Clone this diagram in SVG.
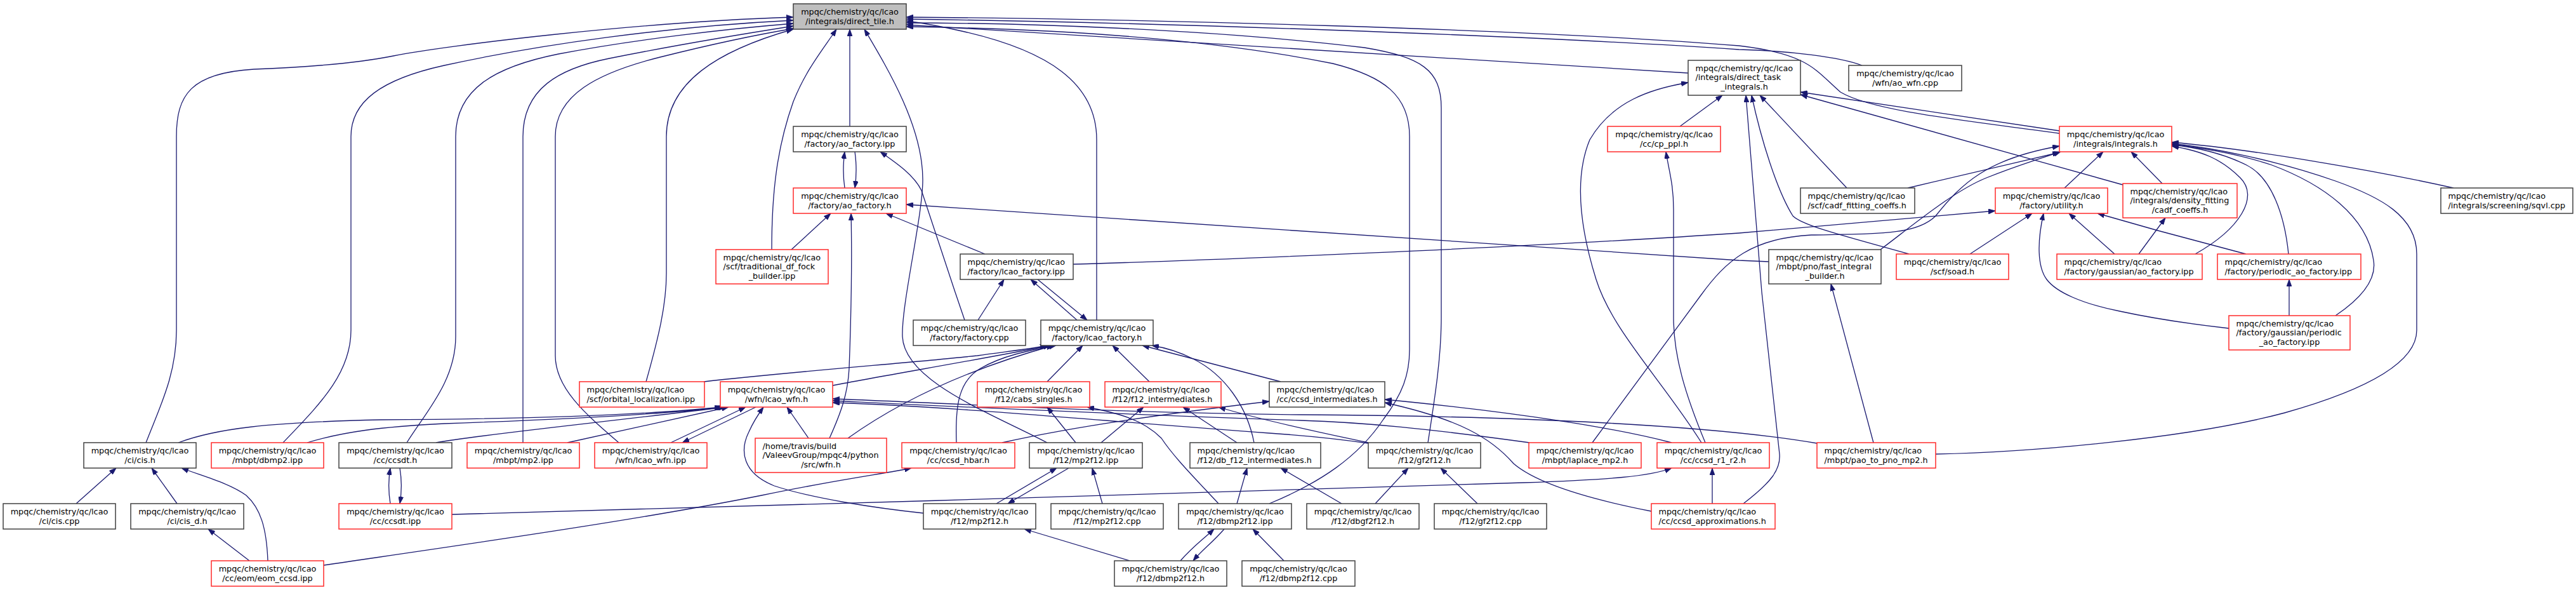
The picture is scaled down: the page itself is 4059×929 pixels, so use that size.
<svg xmlns="http://www.w3.org/2000/svg" width="4059" height="929" viewBox="0 0 4059 929">
<style>
rect{fill:#fff;stroke:#404040;stroke-width:1.5}
.r rect{stroke:#ff2a2a}
.g rect{fill:#bfbfbf}
text{font-family:"DejaVu Sans","Liberation Sans",sans-serif;font-size:12.8px;fill:#000}
.c{text-anchor:middle}
#edges path{fill:none;stroke:#191970;stroke-width:1.3;marker-end:url(#a)}
</style>
<defs>
<marker id="a" viewBox="0 0 11 8" refX="11" refY="4" markerWidth="11" markerHeight="8" markerUnits="userSpaceOnUse" orient="auto"><path d="M0,0 L11,4 L0,8 z" fill="#191970" stroke="#191970" stroke-width="0.8"/></marker>
</defs>
<rect x="0" y="0" width="4059" height="929" style="fill:#fff;stroke:none"/>
<g id="edges">
<path d="M230,697 C252,640 278,590 278,520 L278,215 C278,150 300,115 400,109 C480,106 560,100 620,88 C700,72 1000,35 1250,27"/>
<path d="M446,697 C500,640 553,590 553,520 L553,215 C553,160 600,125 700,103 C850,70 1050,42 1250,32"/>
<path d="M641,697 C670,650 718,600 718,530 L718,215 C718,140 780,105 880,85 C1000,62 1150,45 1250,37"/>
<path d="M824,697 L824,215 C824,140 880,108 960,92 C1080,68 1180,52 1250,41"/>
<path d="M975,697 C920,650 875,610 875,560 L875,215 C875,150 940,115 1040,90 C1120,70 1190,55 1250,45"/>
<path d="M1018,601 C1038,530 1050,480 1050,430 L1050,215 C1050,130 1130,80 1250,46"/>
<path d="M1216,393 C1216,300 1225,230 1250,160 C1270,110 1295,80 1318,46"/>
<path d="M1339,199 L1339,46"/>
<path d="M1650,697 C1560,650 1425,600 1422,530 C1420,480 1454,340 1454,283 C1454,200 1400,110 1362,46"/>
<path d="M1728,504 L1728,220 C1728,130 1650,80 1520,50 C1490,43 1460,37 1428,33"/>
<path d="M3245,210 C3100,190 2950,175 2900,145 C2860,110 2850,85 2740,72 C2400,45 1800,30 1428,27"/>
<path d="M2934,103 C2900,90 2820,80 2740,78 C2400,55 1800,35 1428,30"/>
<path d="M2250,697 C2262,620 2271,560 2271,500 L2271,170 C2271,110 2240,90 2150,75 C1900,45 1600,36 1428,36"/>
<path d="M2660,115 L1428,39"/>
<path d="M2000,793 C2080,760 2140,720 2180,660 C2210,620 2221,590 2221,550 L2221,215 C2221,150 2180,120 2100,100 C1900,60 1650,45 1428,42"/>
<path d="M1247,393 L1309,336"/>
<path d="M1331,296 C1328,275 1328,260 1331,239"/>
<path d="M1347,239 C1350,260 1350,275 1347,296"/>
<path d="M1307,690 C1325,650 1336,620 1338,580 C1341,500 1343,420 1341,336"/>
<path d="M1552,400 L1396,336"/>
<path d="M1520,504 L1505,460 L1452,300 C1440,275 1410,255 1387,239"/>
<path d="M1541,504 L1582,440"/>
<path d="M1697,504 L1624,440"/>
<path d="M1635,440 L1713,504"/>
<path d="M1691,416 C1900,410 2400,390 2740,367 L3144,332"/>
<path d="M2787,412 L2740,410 L1428,322"/>
<path d="M2647,199 L2714,150"/>
<path d="M3245,206 L2837,145"/>
<path d="M3345,291 L2837,149"/>
<path d="M2910,296 L2773,150"/>
<path d="M3008,400 C2900,370 2840,355 2825,340 C2800,300 2775,220 2760,150"/>
<path d="M2747,793 C2790,760 2806,740 2804,715 L2776,460 L2751,150"/>
<path d="M2681,697 C2620,600 2540,520 2515,440 C2490,360 2480,280 2505,220 C2540,160 2600,140 2660,130"/>
<path d="M2687,697 C2655,620 2637,560 2637,500 L2637,330 C2637,290 2630,270 2625,239"/>
<path d="M3407,289 L3358,239"/>
<path d="M3253,296 L3314,239"/>
<path d="M3006,296 L3245,240"/>
<path d="M2963,393 C3020,350 3080,300 3130,280 C3180,260 3220,248 3247,239"/>
<path d="M2509,697 L2680,465 C2720,410 2760,375 2854,370 C2960,368 3020,370 3050,340 C3090,290 3130,250 3245,230"/>
<path d="M3459,400 C3530,360 3560,310 3530,280 C3500,250 3470,238 3422,230"/>
<path d="M3606,400 C3600,340 3580,280 3540,260 C3500,240 3460,232 3422,228"/>
<path d="M3680,497 C3720,470 3745,440 3740,410 C3730,340 3660,290 3580,260 C3520,240 3460,232 3422,227"/>
<path d="M3866,296 C3750,270 3550,235 3422,224"/>
<path d="M3050,715 C3200,712 3450,690 3600,650 C3760,605 3808,560 3808,520 L3808,400 C3808,340 3750,310 3680,285 C3580,250 3480,232 3422,226"/>
<path d="M3104,400 L3202,336"/>
<path d="M3512,517 C3450,510 3400,503 3340,490 C3280,478 3240,460 3225,440 C3210,420 3210,380 3220,336"/>
<path d="M3332,400 L3260,336"/>
<path d="M3539,400 L3400,363 L3305,336"/>
<path d="M3370,400 L3412,343"/>
<path d="M3607,497 L3607,440"/>
<path d="M2952,697 L2885,447"/>
<path d="M1109,601 C1250,585 1450,570 1540,560 C1590,553 1620,550 1650,544"/>
<path d="M1312,607 C1400,590 1550,565 1655,544"/>
<path d="M1336,690 C1420,630 1530,580 1660,544"/>
<path d="M1507,697 C1505,640 1510,600 1545,580 C1580,560 1620,552 1664,544"/>
<path d="M1650,601 L1706,544"/>
<path d="M1811,601 L1753,544"/>
<path d="M2018,601 L1800,544"/>
<path d="M1976,697 C1965,640 1930,590 1880,565 C1860,555 1840,548 1815,544"/>
<path d="M281,697 C340,675 420,665 600,661 C800,660 1000,655 1137,641"/>
<path d="M484,697 C540,680 600,672 700,667 C900,660 1050,652 1140,641"/>
<path d="M687,697 C750,685 950,665 1143,641"/>
<path d="M894,697 L1148,641"/>
<path d="M1057,697 L1175,641"/>
<path d="M1191,641 L1075,697"/>
<path d="M1455,808 C1380,800 1280,785 1220,765 C1170,745 1165,710 1180,680 C1188,662 1195,652 1203,641"/>
<path d="M1274,690 L1240,641"/>
<path d="M2863,698 C2700,670 2400,655 2050,653 C1750,650 1500,635 1312,628"/>
<path d="M2410,697 C2250,675 2150,665 2050,662 C1700,650 1500,640 1312,631"/>
<path d="M2156,698 C2100,690 2060,686 2000,682 C1700,660 1500,640 1312,634"/>
<path d="M2156,697 C2100,685 2000,665 1920,641"/>
<path d="M1579,697 C1700,670 1850,650 2000,632"/>
<path d="M2634,697 C2550,675 2400,650 2182,629"/>
<path d="M2602,805 C2500,785 2420,760 2385,730 C2350,690 2300,660 2182,634"/>
<path d="M510,890 C700,862 1000,820 1200,780 C1320,755 1400,745 1436,737"/>
<path d="M712,810 C1200,795 2000,775 2400,760 C2540,755 2600,750 2634,737"/>
<path d="M2698,793 L2698,737"/>
<path d="M2167,793 L2219,737"/>
<path d="M2328,793 L2270,737"/>
<path d="M2114,793 L2018,737"/>
<path d="M120,793 L183,737"/>
<path d="M279,793 L239,737"/>
<path d="M422,883 C420,830 410,800 388,780 C360,760 320,750 286,737"/>
<path d="M393,883 L328,833"/>
<path d="M615,793 C612,775 612,755 615,737"/>
<path d="M630,737 C633,755 633,775 630,793"/>
<path d="M1570,793 L1665,737"/>
<path d="M1684,737 L1588,793"/>
<path d="M1737,793 L1721,737"/>
<path d="M1695,697 L1650,641"/>
<path d="M1735,697 L1802,641"/>
<path d="M1949,697 L1864,641"/>
<path d="M1920,793 C1880,750 1850,720 1830,690 C1800,660 1760,650 1713,641"/>
<path d="M1949,793 L1965,737"/>
<path d="M1860,883 C1880,860 1895,850 1913,833"/>
<path d="M1929,833 C1910,855 1895,865 1880,883"/>
<path d="M2023,883 L1974,833"/>
<path d="M1780,883 L1614,833"/>
</g>
<g id="n1" class="g"><rect x="1250" y="6" width="178" height="40"/><text class="c" x="1339" y="23">mpqc/chemistry/qc/lcao</text><text class="c" x="1339" y="37.5">/integrals/direct_tile.h</text></g>
<g id="n2"><rect x="2660" y="95" width="177" height="55"/><text x="2671.5" y="111.5">mpqc/chemistry/qc/lcao</text><text x="2671.5" y="126">/integrals/direct_task</text><text class="c" x="2748.5" y="140.5">_integrals.h</text></g>
<g id="n3"><rect x="2913" y="103" width="178" height="40"/><text class="c" x="3002" y="120">mpqc/chemistry/qc/lcao</text><text class="c" x="3002" y="134.5">/wfn/ao_wfn.cpp</text></g>
<g id="n4"><rect x="1250" y="199" width="178" height="40"/><text class="c" x="1339" y="216">mpqc/chemistry/qc/lcao</text><text class="c" x="1339" y="230.5">/factory/ao_factory.ipp</text></g>
<g id="n5" class="r"><rect x="2533" y="199" width="178" height="40"/><text class="c" x="2622" y="216">mpqc/chemistry/qc/lcao</text><text class="c" x="2622" y="230.5">/cc/cp_ppl.h</text></g>
<g id="n6" class="r"><rect x="3245" y="199" width="177" height="40"/><text class="c" x="3333.5" y="216">mpqc/chemistry/qc/lcao</text><text class="c" x="3333.5" y="230.5">/integrals/integrals.h</text></g>
<g id="n7" class="r"><rect x="1250" y="296" width="178" height="40"/><text class="c" x="1339" y="313">mpqc/chemistry/qc/lcao</text><text class="c" x="1339" y="327.5">/factory/ao_factory.h</text></g>
<g id="n8"><rect x="2837" y="296" width="180" height="40"/><text x="2848.5" y="313">mpqc/chemistry/qc/lcao</text><text x="2848.5" y="327.5">/scf/cadf_fitting_coeffs.h</text></g>
<g id="n9" class="r"><rect x="3144" y="296" width="177" height="40"/><text class="c" x="3232.5" y="313">mpqc/chemistry/qc/lcao</text><text class="c" x="3232.5" y="327.5">/factory/utility.h</text></g>
<g id="n10" class="r"><rect x="3345" y="289" width="180" height="54"/><text x="3356.5" y="305.5">mpqc/chemistry/qc/lcao</text><text x="3356.5" y="320">/integrals/density_fitting</text><text class="c" x="3435" y="334.5">/cadf_coeffs.h</text></g>
<g id="n11"><rect x="3846" y="296" width="208" height="40"/><text x="3857.5" y="313">mpqc/chemistry/qc/lcao</text><text x="3857.5" y="327.5">/integrals/screening/sqvl.cpp</text></g>
<g id="n12" class="r"><rect x="1128" y="393" width="177" height="54"/><text x="1139.5" y="409.5">mpqc/chemistry/qc/lcao</text><text x="1139.5" y="424">/scf/traditional_df_fock</text><text class="c" x="1216.5" y="438.5">_builder.ipp</text></g>
<g id="n13"><rect x="1513" y="400" width="178" height="40"/><text x="1524.5" y="417">mpqc/chemistry/qc/lcao</text><text x="1524.5" y="431.5">/factory/lcao_factory.ipp</text></g>
<g id="n14"><rect x="2787" y="393" width="177" height="54"/><text x="2798.5" y="409.5">mpqc/chemistry/qc/lcao</text><text x="2798.5" y="424">/mbpt/pno/fast_integral</text><text class="c" x="2875.5" y="438.5">_builder.h</text></g>
<g id="n15" class="r"><rect x="2988" y="400" width="177" height="40"/><text class="c" x="3076.5" y="417">mpqc/chemistry/qc/lcao</text><text class="c" x="3076.5" y="431.5">/scf/soad.h</text></g>
<g id="n16" class="r"><rect x="3241" y="400" width="229" height="40"/><text x="3252.5" y="417">mpqc/chemistry/qc/lcao</text><text x="3252.5" y="431.5">/factory/gaussian/ao_factory.ipp</text></g>
<g id="n17" class="r"><rect x="3494" y="400" width="226" height="40"/><text x="3505.5" y="417">mpqc/chemistry/qc/lcao</text><text x="3505.5" y="431.5">/factory/periodic_ao_factory.ipp</text></g>
<g id="n18"><rect x="1439" y="504" width="177" height="40"/><text class="c" x="1527.5" y="521">mpqc/chemistry/qc/lcao</text><text class="c" x="1527.5" y="535.5">/factory/factory.cpp</text></g>
<g id="n19"><rect x="1640" y="504" width="177" height="40"/><text class="c" x="1728.5" y="521">mpqc/chemistry/qc/lcao</text><text class="c" x="1728.5" y="535.5">/factory/lcao_factory.h</text></g>
<g id="n20" class="r"><rect x="3512" y="497" width="191" height="54"/><text x="3523.5" y="513.5">mpqc/chemistry/qc/lcao</text><text x="3523.5" y="528">/factory/gaussian/periodic</text><text class="c" x="3607.5" y="542.5">_ao_factory.ipp</text></g>
<g id="n21" class="r"><rect x="913" y="601" width="197" height="40"/><text x="924.5" y="618">mpqc/chemistry/qc/lcao</text><text x="924.5" y="632.5">/scf/orbital_localization.ipp</text></g>
<g id="n22" class="r"><rect x="1135" y="601" width="177" height="40"/><text class="c" x="1223.5" y="618">mpqc/chemistry/qc/lcao</text><text class="c" x="1223.5" y="632.5">/wfn/lcao_wfn.h</text></g>
<g id="n23" class="r"><rect x="1540" y="601" width="177" height="40"/><text class="c" x="1628.5" y="618">mpqc/chemistry/qc/lcao</text><text class="c" x="1628.5" y="632.5">/f12/cabs_singles.h</text></g>
<g id="n24" class="r"><rect x="1741" y="601" width="183" height="40"/><text x="1752.5" y="618">mpqc/chemistry/qc/lcao</text><text x="1752.5" y="632.5">/f12/f12_intermediates.h</text></g>
<g id="n25"><rect x="2000" y="601" width="182" height="40"/><text x="2011.5" y="618">mpqc/chemistry/qc/lcao</text><text x="2011.5" y="632.5">/cc/ccsd_intermediates.h</text></g>
<g id="n26" class="r"><rect x="1190" y="690" width="207" height="54"/><text x="1201.5" y="706.5">/home/travis/build</text><text x="1201.5" y="721">/ValeevGroup/mpqc4/python</text><text class="c" x="1293.5" y="735.5">/src/wfn.h</text></g>
<g id="n27"><rect x="132" y="697" width="177" height="40"/><text class="c" x="220.5" y="714">mpqc/chemistry/qc/lcao</text><text class="c" x="220.5" y="728.5">/ci/cis.h</text></g>
<g id="n28" class="r"><rect x="333" y="697" width="177" height="40"/><text class="c" x="421.5" y="714">mpqc/chemistry/qc/lcao</text><text class="c" x="421.5" y="728.5">/mbpt/dbmp2.ipp</text></g>
<g id="n29"><rect x="534" y="697" width="178" height="40"/><text class="c" x="623" y="714">mpqc/chemistry/qc/lcao</text><text class="c" x="623" y="728.5">/cc/ccsdt.h</text></g>
<g id="n30" class="r"><rect x="736" y="697" width="177" height="40"/><text class="c" x="824.5" y="714">mpqc/chemistry/qc/lcao</text><text class="c" x="824.5" y="728.5">/mbpt/mp2.ipp</text></g>
<g id="n31" class="r"><rect x="937" y="697" width="177" height="40"/><text class="c" x="1025.5" y="714">mpqc/chemistry/qc/lcao</text><text class="c" x="1025.5" y="728.5">/wfn/lcao_wfn.ipp</text></g>
<g id="n32" class="r"><rect x="1421" y="697" width="178" height="40"/><text class="c" x="1510" y="714">mpqc/chemistry/qc/lcao</text><text class="c" x="1510" y="728.5">/cc/ccsd_hbar.h</text></g>
<g id="n33"><rect x="1622" y="697" width="178" height="40"/><text class="c" x="1711" y="714">mpqc/chemistry/qc/lcao</text><text class="c" x="1711" y="728.5">/f12/mp2f12.ipp</text></g>
<g id="n34"><rect x="1875" y="697" width="206" height="40"/><text x="1886.5" y="714">mpqc/chemistry/qc/lcao</text><text x="1886.5" y="728.5">/f12/db_f12_intermediates.h</text></g>
<g id="n35"><rect x="2156" y="697" width="177" height="40"/><text class="c" x="2244.5" y="714">mpqc/chemistry/qc/lcao</text><text class="c" x="2244.5" y="728.5">/f12/gf2f12.h</text></g>
<g id="n36" class="r"><rect x="2409" y="697" width="177" height="40"/><text class="c" x="2497.5" y="714">mpqc/chemistry/qc/lcao</text><text class="c" x="2497.5" y="728.5">/mbpt/laplace_mp2.h</text></g>
<g id="n37" class="r"><rect x="2611" y="697" width="177" height="40"/><text class="c" x="2699.5" y="714">mpqc/chemistry/qc/lcao</text><text class="c" x="2699.5" y="728.5">/cc/ccsd_r1_r2.h</text></g>
<g id="n38" class="r"><rect x="2863" y="697" width="187" height="40"/><text x="2874.5" y="714">mpqc/chemistry/qc/lcao</text><text x="2874.5" y="728.5">/mbpt/pao_to_pno_mp2.h</text></g>
<g id="n39"><rect x="5" y="793" width="177" height="40"/><text class="c" x="93.5" y="810">mpqc/chemistry/qc/lcao</text><text class="c" x="93.5" y="824.5">/ci/cis.cpp</text></g>
<g id="n40"><rect x="206" y="793" width="178" height="40"/><text class="c" x="295" y="810">mpqc/chemistry/qc/lcao</text><text class="c" x="295" y="824.5">/ci/cis_d.h</text></g>
<g id="n41" class="r"><rect x="534" y="793" width="178" height="40"/><text class="c" x="623" y="810">mpqc/chemistry/qc/lcao</text><text class="c" x="623" y="824.5">/cc/ccsdt.ipp</text></g>
<g id="n42"><rect x="1455" y="793" width="177" height="40"/><text class="c" x="1543.5" y="810">mpqc/chemistry/qc/lcao</text><text class="c" x="1543.5" y="824.5">/f12/mp2f12.h</text></g>
<g id="n43"><rect x="1656" y="793" width="177" height="40"/><text class="c" x="1744.5" y="810">mpqc/chemistry/qc/lcao</text><text class="c" x="1744.5" y="824.5">/f12/mp2f12.cpp</text></g>
<g id="n44"><rect x="1857" y="793" width="178" height="40"/><text class="c" x="1946" y="810">mpqc/chemistry/qc/lcao</text><text class="c" x="1946" y="824.5">/f12/dbmp2f12.ipp</text></g>
<g id="n45"><rect x="2059" y="793" width="177" height="40"/><text class="c" x="2147.5" y="810">mpqc/chemistry/qc/lcao</text><text class="c" x="2147.5" y="824.5">/f12/dbgf2f12.h</text></g>
<g id="n46"><rect x="2260" y="793" width="177" height="40"/><text class="c" x="2348.5" y="810">mpqc/chemistry/qc/lcao</text><text class="c" x="2348.5" y="824.5">/f12/gf2f12.cpp</text></g>
<g id="n47" class="r"><rect x="2602" y="793" width="195" height="40"/><text x="2613.5" y="810">mpqc/chemistry/qc/lcao</text><text x="2613.5" y="824.5">/cc/ccsd_approximations.h</text></g>
<g id="n48" class="r"><rect x="333" y="883" width="177" height="40"/><text class="c" x="421.5" y="900">mpqc/chemistry/qc/lcao</text><text class="c" x="421.5" y="914.5">/cc/eom/eom_ccsd.ipp</text></g>
<g id="n49"><rect x="1756" y="883" width="177" height="40"/><text class="c" x="1844.5" y="900">mpqc/chemistry/qc/lcao</text><text class="c" x="1844.5" y="914.5">/f12/dbmp2f12.h</text></g>
<g id="n50"><rect x="1957" y="883" width="178" height="40"/><text class="c" x="2046" y="900">mpqc/chemistry/qc/lcao</text><text class="c" x="2046" y="914.5">/f12/dbmp2f12.cpp</text></g>
</svg>
